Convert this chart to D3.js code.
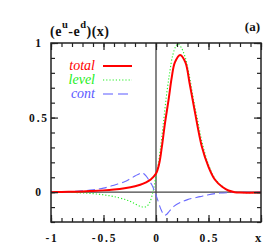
<!DOCTYPE html>
<html>
<head>
<meta charset="utf-8">
<script src="https://cdn.jsdelivr.net/npm/d3@7"></script>
<style>
  body { margin: 0; background: #fff; }
  svg { display: block; }
</style>
</head>
<body>
<svg id="chart"></svg>
<script>
// data
const totalX = [-1, -0.9, -0.8, -0.7, -0.6, -0.5, -0.4, -0.3, -0.2, -0.15, -0.1, -0.05, 0, 0.03, 0.055, 0.085, 0.12, 0.15, 0.18, 0.23, 0.28, 0.32, 0.37, 0.435, 0.5, 0.56, 0.63, 0.69, 0.75, 0.8, 0.9, 1];
const totalY = [0, 0.001, 0.003, 0.005, 0.008, 0.012, 0.018, 0.027, 0.04, 0.05, 0.064, 0.085, 0.125, 0.19, 0.30, 0.46, 0.62, 0.77, 0.87, 0.92, 0.87, 0.73, 0.54, 0.31, 0.17, 0.085, 0.036, 0.011, 0.0, -0.003, -0.004, -0.003];

const levelX = [-1, -0.9, -0.8, -0.7, -0.6, -0.5, -0.4, -0.3, -0.25, -0.2, -0.15, -0.12, -0.09, -0.06, -0.03, -0.015, 0, 0.02, 0.04, 0.07, 0.1, 0.13, 0.16, 0.19, 0.21, 0.24, 0.28, 0.32, 0.36, 0.4, 0.44, 0.5, 0.56, 0.63, 0.69, 0.75, 0.8, 0.9, 1];
const levelY = [0, -0.001, -0.002, -0.005, -0.01, -0.018, -0.03, -0.048, -0.06, -0.078, -0.095, -0.1, -0.095, -0.07, 0, 0.05, 0.11, 0.18, 0.28, 0.46, 0.65, 0.8, 0.92, 0.98, 0.995, 0.97, 0.9, 0.77, 0.61, 0.47, 0.33, 0.185, 0.092, 0.04, 0.012, 0.002, -0.002, -0.003, -0.003];

const contX = [-1, -0.9, -0.8, -0.7, -0.6, -0.5, -0.4, -0.3, -0.25, -0.2, -0.15, -0.13, -0.11, -0.08, -0.06, -0.04, -0.01, 0.02, 0.05, 0.08, 0.1, 0.13, 0.17, 0.23, 0.3, 0.42, 0.5, 0.61, 0.7, 0.8, 1];
const contY = [0, 0.001, 0.004, 0.009, 0.016, 0.027, 0.047, 0.07, 0.088, 0.108, 0.127, 0.13, 0.12, 0.095, 0.07, 0.05, 0, -0.06, -0.12, -0.155, -0.15, -0.125, -0.095, -0.07, -0.05, -0.03, -0.017, -0.006, -0.003, -0.001, 0];

const xMajor = [-1, -0.5, 0, 0.5, 1];
const xTickLabels = ["-1", "-0.5", "0", "0.5", ""];
const yMajor = [0, 0.5, 1];
const yTickLabels = ["0", "0.5", "1"];
const legendNames = ["total", "level", "cont"];

const SERIF = "'Liberation Serif', 'DejaVu Serif', serif";

const W = 268, H = 251;
const svg = d3.select("#chart").attr("width", W).attr("height", H);

const x = d3.scaleLinear().domain([-1, 1]).range([51, 261]);
const y = d3.scaleLinear().domain([-0.2, 1]).range([222, 43]);

const xMinor = d3.range(-10, 11).map(d => d / 10);
const yMinor = d3.range(-2, 11).map(d => d / 10);

// zero lines
svg.append("line")
    .attr("x1", x(0)).attr("x2", x(0)).attr("y1", y(1)).attr("y2", y(-0.2))
    .attr("stroke", "#444").attr("stroke-width", 1.3);
svg.append("line")
    .attr("x1", x(-1)).attr("x2", x(1)).attr("y1", y(0)).attr("y2", y(0))
    .attr("stroke", "#444").attr("stroke-width", 1.3);

// curves
const line = d3.line().x(d => x(d[0])).y(d => y(d[1])).curve(d3.curveCatmullRom.alpha(0.5));
const series = [
    { xs: levelX, ys: levelY, color: "#22ee22", width: 1.1, dash: "1.2,2" },
    { xs: contX, ys: contY, color: "#6a6aff", width: 1.1, dash: "8,4" },
    { xs: totalX, ys: totalY, color: "#ff0000", width: 2, dash: null }
];
series.forEach(s => {
    svg.append("path")
        .datum(s.xs.map((v, i) => [v, s.ys[i]]))
        .attr("d", line)
        .attr("fill", "none")
        .attr("stroke", s.color)
        .attr("stroke-width", s.width)
        .attr("stroke-dasharray", s.dash);
});

// ticks on all four sides, pointing inward
function ticks(axis, vals, size, tx, ty) {
    const g = svg.append("g").attr("transform", `translate(${tx},${ty})`)
        .call(axis.tickValues(vals).tickSize(size).tickFormat(""));
    g.select(".domain").remove();
    g.selectAll("line").attr("stroke", "#222").attr("stroke-width", 1.2);
    return g;
}
ticks(d3.axisBottom(x), xMinor, -4, 0, y(-0.2));
ticks(d3.axisBottom(x), xMajor, -7, 0, y(-0.2));
ticks(d3.axisTop(x), xMinor, -4, 0, y(1));
ticks(d3.axisTop(x), xMajor, -7, 0, y(1));
ticks(d3.axisLeft(y), yMinor, -4, x(-1), 0);
ticks(d3.axisLeft(y), yMajor, -7, x(-1), 0);
ticks(d3.axisRight(y), yMinor, -4, x(1), 0);
ticks(d3.axisRight(y), yMajor, -7, x(1), 0);

// frame
svg.append("rect")
    .attr("x", x(-1)).attr("y", y(1))
    .attr("width", x(1) - x(-1)).attr("height", y(-0.2) - y(1))
    .attr("fill", "none").attr("stroke", "#222").attr("stroke-width", 1.5);

// bold serif label helper
function label(sel) {
    return sel.attr("font-family", SERIF).attr("font-weight", "bold").attr("fill", "#111");
}

// tick labels
svg.selectAll(".xl").data(xMajor).enter().append("text")
    .call(label)
    .attr("x", d => x(d) + 1).attr("y", 242)
    .attr("text-anchor", "middle")
    .attr("font-size", 11.5)
    .attr("letter-spacing", 1.8)
    .text((d, i) => xTickLabels[i]);

svg.selectAll(".yl").data(yMajor).enter().append("text")
    .call(label)
    .attr("x", 39).attr("y", d => y(d) + 4)
    .attr("text-anchor", "middle")
    .attr("font-size", 11.5)
    .attr("letter-spacing", 1.8)
    .text((d, i) => yTickLabels[i]);

svg.append("text").call(label)
    .attr("x", 258).attr("y", 242).attr("text-anchor", "middle")
    .attr("font-size", 12.5).text("x");

// title and panel label
const title = svg.append("text").call(label)
    .attr("x", 50).attr("y", 36).attr("font-size", 14).attr("letter-spacing", 0.5);
title.append("tspan").text("(e");
title.append("tspan").attr("dy", -8).attr("font-size", 10.5).text("u");
title.append("tspan").attr("dy", 8).text("-e");
title.append("tspan").attr("dy", -8).attr("font-size", 10.5).text("d");
title.append("tspan").attr("dy", 8).text(")(x)");

svg.append("text").call(label)
    .attr("x", 260).attr("y", 31).attr("text-anchor", "end")
    .attr("font-size", 13).text("(a)");

// legend
const legColors = ["#ff0000", "#22ee22", "#5a5aff"];
const legDash = [null, "1.2,2", "10,5"];
const legWidth = [2, 1.1, 1.1];
legendNames.forEach((name, i) => {
    const ly = 66 + i * 14;
    svg.append("text")
        .attr("font-family", SERIF).attr("font-style", "italic").attr("font-size", 14)
        .attr("x", 95).attr("y", ly + 4).attr("text-anchor", "end")
        .attr("fill", legColors[i]).text(name);
    svg.append("line")
        .attr("x1", 103).attr("x2", 132).attr("y1", ly).attr("y2", ly)
        .attr("stroke", legColors[i]).attr("stroke-width", legWidth[i])
        .attr("stroke-dasharray", legDash[i]);
});
</script>
</body>
</html>
